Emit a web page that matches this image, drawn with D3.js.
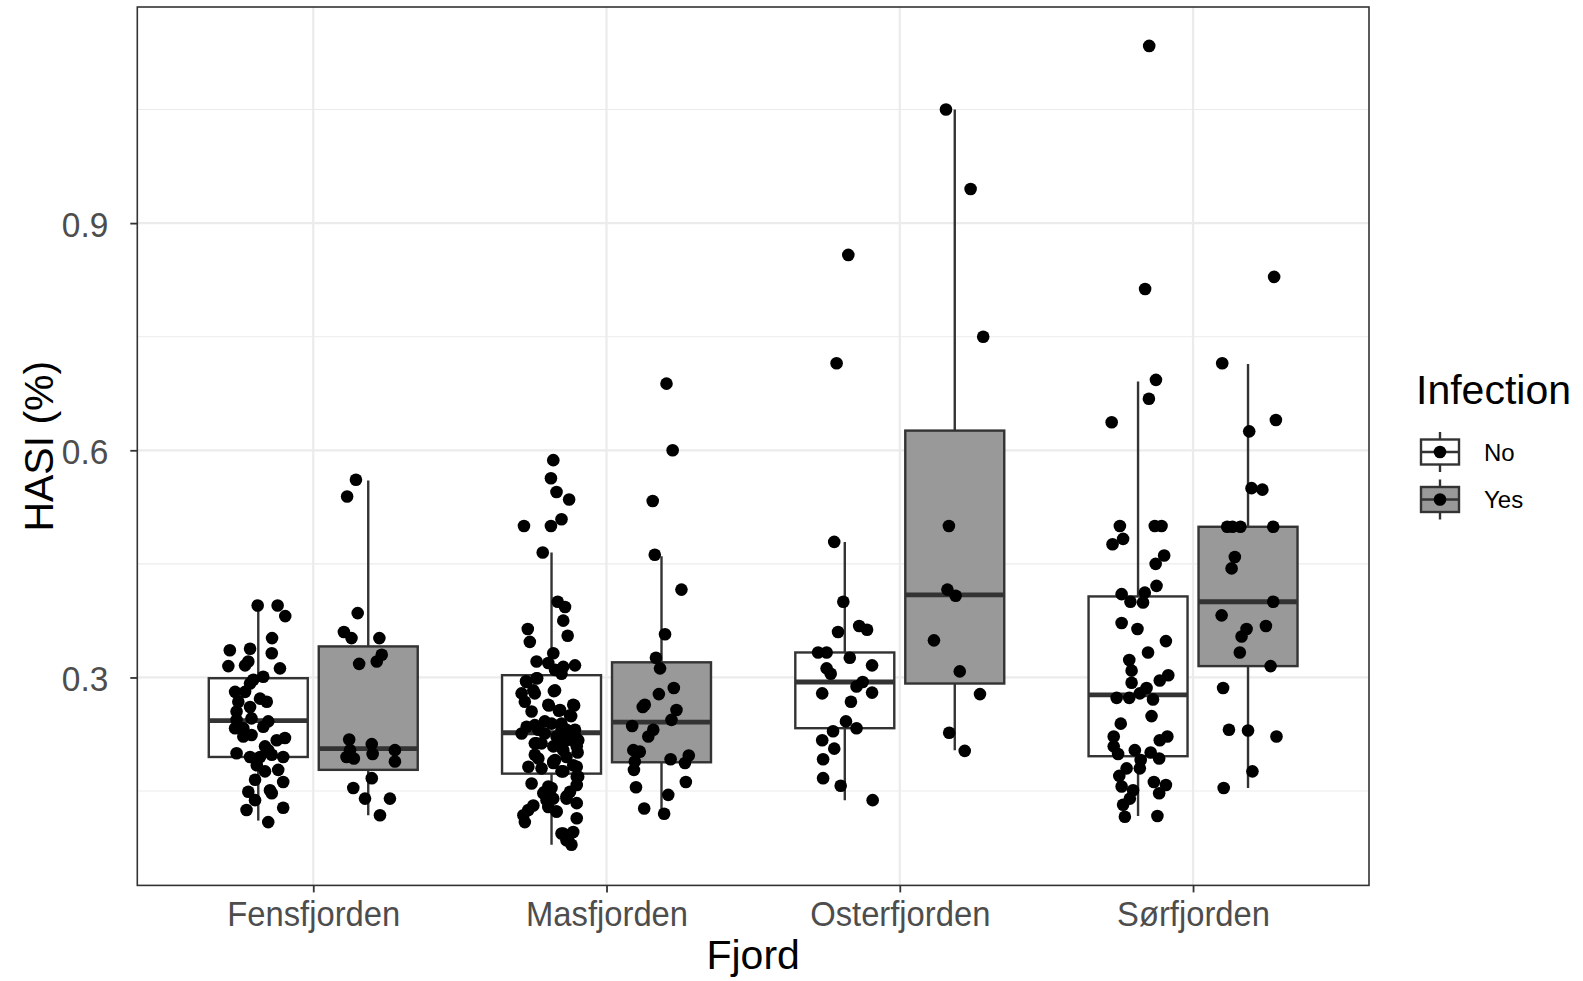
<!DOCTYPE html>
<html>
<head>
<meta charset="utf-8">
<script src="https://cdn.jsdelivr.net/npm/d3@7"></script>
<style>
  html, body { margin: 0; padding: 0; background: #fff; }
  svg { display: block; font-family: "Liberation Sans", Arial, Helvetica, sans-serif; }
</style>
</head>
<body>
<svg id="chart" width="1583" height="981"></svg>
<script>
// ---- data ---------------------------------------------------------------
const fjords = ["Fensfjorden", "Masfjorden", "Osterfjorden", "Sørfjorden"];
const infection = ["No", "Yes"];
const yTicks = [0.3, 0.6, 0.9];
const yMinorTicks = [0.15, 0.45, 0.75, 1.05];

// box statistics per fjord: [lower whisker, Q1, median, Q3, upper whisker]
const boxNo = [
  [0.111, 0.195, 0.243, 0.299, 0.394],
  [0.079, 0.173, 0.227, 0.303, 0.465],
  [0.138, 0.233, 0.294, 0.333, 0.479],
  [0.117, 0.196, 0.277, 0.407, 0.691]
];
const boxYes = [
  [0.118, 0.178, 0.206, 0.341, 0.560],
  [0.120, 0.188, 0.241, 0.320, 0.460],
  [0.204, 0.292, 0.409, 0.626, 1.050],
  [0.154, 0.315, 0.400, 0.499, 0.714]
];

// individual fish: [jitter offset (fraction of a category step), HASI]
const fensfjordenNo = [
  [-0.002,0.395],[0.066,0.395],[0.092,0.381],[0.047,0.352],[-0.097,0.336],[-0.028,0.338],
  [0.046,0.332],[-0.102,0.315],[-0.045,0.316],[-0.034,0.321],[0.074,0.312],[0.017,0.301],
  [-0.017,0.297],[-0.028,0.292],[-0.079,0.281],[-0.045,0.281],[0.006,0.272],[0.029,0.268],
  [-0.068,0.268],[-0.074,0.255],[-0.028,0.261],[-0.074,0.244],[-0.023,0.246],[0.034,0.242],
  [-0.079,0.233],[-0.051,0.233],[0.017,0.235],[-0.051,0.222],[-0.023,0.224],[0.063,0.217],
  [0.091,0.220],[0.023,0.209],[0.034,0.204],[-0.074,0.200],[-0.028,0.195],[0.006,0.195],
  [0.046,0.198],[0.085,0.195],[-0.005,0.184],[0.023,0.176],[0.068,0.178],[-0.011,0.165],
  [0.085,0.162],[-0.034,0.149],[0.040,0.151],[0.046,0.147],[-0.011,0.138],[-0.040,0.125],
  [0.085,0.128],[0.034,0.109]
];
const fensfjordenYes = [
  [-0.042,0.561],[-0.072,0.539],[-0.036,0.385],[-0.083,0.360],[-0.057,0.352],[0.038,0.352],
  [0.046,0.330],[0.029,0.321],[-0.031,0.318],[-0.065,0.218],[0.012,0.212],[0.091,0.204],
  [-0.062,0.204],[-0.049,0.193],[0.015,0.199],[0.091,0.189],[-0.074,0.195],[0.012,0.167],
  [-0.051,0.154],[-0.011,0.140],[0.074,0.140],[0.040,0.118]
];
const masfjordenNo = [
  [0.006,0.587],[-0.002,0.563],[0.017,0.545],[0.060,0.535],[0.034,0.509],[-0.002,0.500],
  [-0.094,0.500],[-0.030,0.465],[0.021,0.400],[0.046,0.393],[0.040,0.375],[0.055,0.355],
  [-0.081,0.364],[-0.074,0.347],
  [0.006,0.332],[-0.051,0.321],[-0.011,0.319],[0.012,0.310],[0.040,0.314],[0.080,0.316],
  [0.034,0.305],[-0.085,0.294],[-0.051,0.299],[0.012,0.283],[-0.102,0.279],[-0.062,0.283],
  [-0.091,0.268],[-0.011,0.264],[0.029,0.257],[0.074,0.264],[0.063,0.250],[-0.068,0.255],
  [-0.023,0.242],[-0.085,0.235],[-0.057,0.237],[-0.102,0.226],[-0.045,0.231],[0.034,0.239],
  [0.080,0.231],[0.017,0.222],[0.051,0.217],[0.091,0.217],[-0.051,0.213],[0.006,0.209],
  [0.040,0.204],[0.086,0.209],[-0.057,0.198],[0.012,0.191],[0.051,0.195],[-0.079,0.182],
  [-0.034,0.180],[0.040,0.176],[0.086,0.182],[0.006,0.187],[-0.068,0.160],[-0.011,0.156],
  [0.086,0.169],[0.063,0.149],[-0.028,0.147],[0.006,0.140],[0.051,0.143],[-0.079,0.125],
  [-0.096,0.118],[0.086,0.134],[-0.011,0.129],[0.017,0.123],[-0.091,0.109],[0.086,0.114],
  [0.034,0.094],[0.074,0.096],[0.068,0.079],[0.051,0.085],
  [0.034,0.231],[0.063,0.226],[0.074,0.217],[0.051,0.231],[0.080,0.222],[0.029,0.209],
  [-0.023,0.226],[0.000,0.239],
  [0.077,0.263],[0.067,0.249],[0.083,0.220],[0.089,0.201],[0.074,0.184],[0.091,0.169],
  [0.086,0.158],[0.051,0.140],[-0.087,0.295],[-0.049,0.299],[-0.057,0.279],[0.008,0.282],
  [-0.009,0.263],[0.025,0.256],[-0.057,0.213],[-0.034,0.213],[-0.045,0.193],[0.006,0.189],
  [0.034,0.176],[-0.023,0.149],[0.000,0.154],[-0.017,0.138],[0.017,0.123],[-0.062,0.131],
  [0.040,0.094],[0.057,0.085]
];
const masfjordenYes = [
  [0.017,0.688],[0.038,0.600],[-0.030,0.533],[-0.023,0.462],[0.068,0.416],[0.012,0.357],
  [-0.019,0.326],[-0.005,0.312],[0.042,0.286],[-0.009,0.278],[-0.057,0.264],[-0.064,0.261],
  [0.051,0.257],[0.034,0.244],[-0.100,0.236],[-0.028,0.231],[-0.045,0.222],[-0.096,0.204],
  [-0.074,0.202],[-0.091,0.189],[-0.094,0.178],[0.031,0.192],[0.093,0.197],[0.080,0.187],
  [0.083,0.162],[-0.087,0.155],[0.023,0.145],[-0.059,0.127],[0.009,0.120]
];
const osterfjordenNo = [
  [0.012,0.858],[-0.028,0.715],[-0.036,0.479],[-0.005,0.400],[0.049,0.368],[0.076,0.363],
  [-0.023,0.360],[-0.091,0.333],[-0.062,0.333],[0.017,0.326],[0.093,0.316],[-0.062,0.312],
  [-0.048,0.305],[0.061,0.294],[0.040,0.288],[-0.077,0.279],[0.093,0.280],[0.021,0.268],
  [0.004,0.242],[-0.040,0.229],[0.040,0.233],[-0.077,0.217],[-0.036,0.206],[-0.074,0.192],
  [-0.074,0.167],[-0.014,0.157],[0.095,0.138]
];
const osterfjordenYes = [
  [-0.030,1.050],[0.054,0.945],[0.097,0.750],[-0.020,0.500],[-0.025,0.416],[0.003,0.408],
  [-0.071,0.349],[0.017,0.308],[0.086,0.278],[-0.019,0.227],[0.034,0.203]
];
const sorfjordenNo = [
  [0.038,1.134],[0.024,0.813],[0.061,0.693],[0.037,0.668],[-0.090,0.637],[-0.062,0.500],
  [0.057,0.500],[0.080,0.500],[-0.051,0.483],[-0.087,0.476],[0.089,0.461],[0.060,0.450],
  [0.063,0.421],
  [-0.056,0.410],[0.023,0.412],[-0.026,0.400],[0.017,0.399],[-0.056,0.372],[-0.002,0.364],
  [0.095,0.348],[0.034,0.333],[-0.030,0.323],[-0.022,0.309],[-0.022,0.293],[0.103,0.303],
  [0.074,0.296],[0.029,0.286],[0.006,0.279],[-0.073,0.273],[-0.030,0.273],[0.051,0.271],
  [0.046,0.249],[-0.059,0.239],[-0.083,0.222],[0.074,0.217],[0.100,0.222],[-0.083,0.209],
  [-0.011,0.204],[-0.068,0.199],[0.043,0.201],[0.072,0.193],[0.009,0.191],[-0.039,0.180],
  [0.006,0.180],[-0.064,0.170],[0.054,0.162],[0.095,0.158],[-0.056,0.156],[-0.017,0.151],
  [0.072,0.147],[-0.028,0.140],[-0.051,0.132],[-0.045,0.116],[0.066,0.117]
];
const sorfjordenYes = [
  [0.089,0.829],[-0.088,0.715],[0.095,0.640],[0.004,0.625],[0.012,0.550],[0.049,0.548],
  [-0.071,0.499],[-0.053,0.499],[-0.026,0.499],[0.086,0.499],[-0.045,0.459],[-0.056,0.444],
  [0.086,0.400],[-0.090,0.382],[0.061,0.368],[-0.005,0.364],[-0.022,0.354],[-0.028,0.333],
  [0.077,0.315],[-0.085,0.286],[-0.065,0.231],[0.000,0.230],[0.097,0.222],[0.015,0.176],
  [-0.083,0.154]
];

const pointsNo = [fensfjordenNo, masfjordenNo, osterfjordenNo, sorfjordenNo];
const pointsYes = [fensfjordenYes, masfjordenYes, osterfjordenYes, sorfjordenYes];
const fills = { No: "#ffffff", Yes: "#999999" };

// ---- layout -------------------------------------------------------------
const svg = d3.select("#chart");
const panel = { left: 137.3, top: 7, right: 1369, bottom: 885.4 };
const ink = "#333333";
const gridCol = "#ebebeb";
const dotR = 6.3;

const x = d3.scalePoint().domain(fjords).range([panel.left, panel.right]).padding(0.6);
const step = x.step();
const xInner = d3.scaleBand().domain(infection).range([-0.375 * step, 0.375 * step]);
const y = d3.scaleLinear().domain([0.0254, 1.1854]).range([panel.bottom, panel.top]);

const groupCenter = (f, g) => x(f) + xInner(g) + xInner.bandwidth() / 2;
const boxW = xInner.bandwidth() * 0.9;

// grid
const grid = svg.append("g");
grid.selectAll("line.minor").data(yMinorTicks).join("line")
  .attr("x1", panel.left).attr("x2", panel.right)
  .attr("y1", d => y(d)).attr("y2", d => y(d))
  .attr("stroke", gridCol).attr("stroke-width", 1.1);
grid.selectAll("line.major").data(yTicks).join("line")
  .attr("x1", panel.left).attr("x2", panel.right)
  .attr("y1", d => y(d)).attr("y2", d => y(d))
  .attr("stroke", gridCol).attr("stroke-width", 2.2);
grid.selectAll("line.xmajor").data(fjords).join("line")
  .attr("x1", d => x(d)).attr("x2", d => x(d))
  .attr("y1", panel.top).attr("y2", panel.bottom)
  .attr("stroke", gridCol).attr("stroke-width", 2.2);

// boxplots
const boxes = [];
fjords.forEach((f, i) => {
  boxes.push({ f, g: "No", s: boxNo[i] });
  boxes.push({ f, g: "Yes", s: boxYes[i] });
});
const bg = svg.append("g").selectAll("g").data(boxes).join("g");
bg.append("line")
  .attr("x1", d => groupCenter(d.f, d.g)).attr("x2", d => groupCenter(d.f, d.g))
  .attr("y1", d => y(d.s[0])).attr("y2", d => y(d.s[4]))
  .attr("stroke", ink).attr("stroke-width", 2.4);
bg.append("rect")
  .attr("x", d => groupCenter(d.f, d.g) - boxW / 2)
  .attr("width", boxW)
  .attr("y", d => y(d.s[3]))
  .attr("height", d => y(d.s[1]) - y(d.s[3]))
  .attr("fill", d => fills[d.g])
  .attr("stroke", ink).attr("stroke-width", 2.4);
bg.append("line")
  .attr("x1", d => groupCenter(d.f, d.g) - boxW / 2)
  .attr("x2", d => groupCenter(d.f, d.g) + boxW / 2)
  .attr("y1", d => y(d.s[2])).attr("y2", d => y(d.s[2]))
  .attr("stroke", ink).attr("stroke-width", 4.8);

// jittered points
const pts = [];
fjords.forEach((f, i) => {
  pointsNo[i].forEach(p => pts.push({ f, g: "No", j: p[0], v: p[1] }));
  pointsYes[i].forEach(p => pts.push({ f, g: "Yes", j: p[0], v: p[1] }));
});
svg.append("g").selectAll("circle").data(pts).join("circle")
  .attr("cx", d => groupCenter(d.f, d.g) + d.j * step)
  .attr("cy", d => y(d.v))
  .attr("r", dotR)
  .attr("fill", "#000");

// panel border
svg.append("rect")
  .attr("x", panel.left).attr("y", panel.top)
  .attr("width", panel.right - panel.left).attr("height", panel.bottom - panel.top)
  .attr("fill", "none").attr("stroke", ink).attr("stroke-width", 1.6);

// axes
const yAxis = svg.append("g").attr("transform", `translate(${panel.left},0)`)
  .call(d3.axisLeft(y).tickValues(yTicks).tickFormat(d3.format(".1f")).tickSize(7).tickPadding(22));
const xAxis = svg.append("g").attr("transform", `translate(0,${panel.bottom})`)
  .call(d3.axisBottom(x).tickSize(7).tickPadding(8));
[yAxis, xAxis].forEach(a => {
  a.select(".domain").remove();
  a.selectAll(".tick line").attr("stroke", ink).attr("stroke-width", 1.8);
  a.selectAll(".tick text").attr("fill", "#4d4d4d")
    .style("font-size", "36px").style("font-family", '"Liberation Sans", Arial, sans-serif');
});
// slightly condensed tick lettering
yAxis.selectAll(".tick text")
  .attr("dy", "0.36em")
  .attr("transform", "translate(-29,0) scale(0.93,1) translate(29,0)");
xAxis.selectAll(".tick text")
  .attr("dy", "0.71em")
  .attr("transform", "scale(0.91,1)");

// axis titles
svg.append("text")
  .attr("x", (panel.left + panel.right) / 2).attr("y", 969)
  .attr("text-anchor", "middle").style("font-size", "41px").attr("fill", "#000")
  .text("Fjord");
svg.append("text")
  .attr("transform", `translate(52.5,${(panel.top + panel.bottom) / 2}) rotate(-90)`)
  .attr("text-anchor", "middle").style("font-size", "41px").attr("fill", "#000")
  .text("HASI (%)");

// legend
const legend = svg.append("g").attr("transform", "translate(1416,0)");
legend.append("text").attr("x", 0).attr("y", 404)
  .style("font-size", "41px").attr("fill", "#000").text("Infection");
const keySize = 40;
const keys = legend.selectAll("g.key").data(infection).join("g")
  .attr("transform", (d, i) => `translate(4,${432 + i * 47.5})`);
keys.append("line")
  .attr("x1", keySize / 2).attr("x2", keySize / 2).attr("y1", 0).attr("y2", keySize)
  .attr("stroke", ink).attr("stroke-width", 2.4);
keys.append("rect")
  .attr("x", 1).attr("y", 7.5).attr("width", keySize - 2).attr("height", 25)
  .attr("fill", d => fills[d]).attr("stroke", ink).attr("stroke-width", 2.4);
keys.append("line")
  .attr("x1", 1).attr("x2", keySize - 1).attr("y1", keySize / 2).attr("y2", keySize / 2)
  .attr("stroke", ink).attr("stroke-width", 2.4);
keys.append("circle")
  .attr("cx", keySize / 2).attr("cy", keySize / 2).attr("r", dotR).attr("fill", "#000");
keys.append("text")
  .attr("x", 64).attr("y", keySize / 2).attr("dy", "0.36em")
  .style("font-size", "24px").attr("fill", "#000")
  .text(d => d);
</script>
</body>
</html>
